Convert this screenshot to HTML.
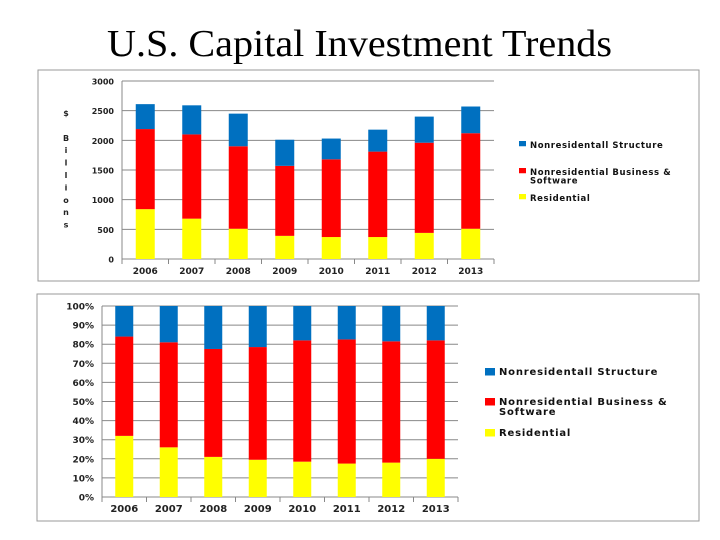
<!DOCTYPE html>
<html><head><meta charset="utf-8"><style>
body{margin:0;width:720px;height:540px;background:#fff;overflow:hidden;font-family:"Liberation Sans",sans-serif}
svg{position:absolute;left:0;top:0}
</style></head><body>
<svg id="s" width="720" height="540">
<text x="107" y="56" textLength="505" lengthAdjust="spacingAndGlyphs" font-family="Liberation Serif,serif" font-size="38" fill="#000">U.S. Capital Investment Trends</text>
<rect x="38" y="70" width="661" height="211" fill="none" stroke="#999"/>
<rect x="37" y="294" width="662" height="227" fill="none" stroke="#999"/>
<g id="top"></g><g id="bot"></g>
</svg>
<script>
const years=["2006","2007","2008","2009","2010","2011","2012","2013"];
const residential=[840,680,510,390,370,370,440,510];
const business=[1350,1420,1390,1180,1310,1440,1520,1610];
const structure=[420,490,550,440,350,370,440,450];
const topTicks=[0,500,1000,1500,2000,2500,3000];
const pctResidential=[32,26,21,19.5,18.5,17.5,18,20];
const pctBusiness=[52,55,56.5,59,63.5,65,63.5,62];
const pctStructure=[16,19,22.5,21.5,18,17.5,18.5,18];
const pctTicks=[0,10,20,30,40,50,60,70,80,90,100];
const colors=["#ffff00","#ff0000","#0070c0"];
const NS="http://www.w3.org/2000/svg";
const FF="DejaVu Sans,sans-serif";
function mk(p,t,a,txt){const e=document.createElementNS(NS,t);for(const k in a)e.setAttribute(k,a[k]);if(txt!==undefined)e.textContent=txt;p.appendChild(e);return e;}
function chart(g,o){
  const y=v=>o.y0-(v-o.min)/(o.max-o.min)*(o.y0-o.y1);
  const step=(o.x1-o.x0)/years.length;
  const x=i=>o.x0+step*(i+0.5);
  o.ticks.forEach(t=>{
    const l=mk(g,"line",{x1:o.x0,x2:o.x1,y1:y(t),y2:y(t),stroke:"#888","stroke-width":1});
    
    
    const tx=mk(g,"text",{x:o.x0-8,y:y(t)+3.5,"text-anchor":"end","font-family":FF,"font-size":o.fs,"font-weight":"bold",fill:"#222"},t+o.suf);
    
    
  });
  const ax=mk(g,"line",{x1:o.x0,x2:o.x0,y1:o.y1,y2:o.y0+5,stroke:"#888"});
  
  
  for(let i=0;i<=years.length;i++){const tk=mk(g,"line",{x1:o.x0+step*i,x2:o.x0+step*i,y1:o.y0,y2:o.y0+5,stroke:"#888"});
    
    }
  const series=[o.a,o.b,o.c];
  years.forEach((yr,i)=>{
    let base=0;
    series.forEach((s,k)=>{
      const r=mk(g,"rect",{x:x(i)-o.bw/2,y:y(base+s[i]),width:o.bw,height:y(base)-y(base+s[i]),fill:colors[k]});
      
      
      base+=s[i];
    });
    const t=mk(g,"text",{x:x(i),y:o.y0+15,"text-anchor":"middle","font-family":FF,"font-size":o.fs+1,"font-weight":"bold",fill:"#222"},yr);
    
    
  });
  const leg=[["Nonresidentall Structure",2,0],["Nonresidential Business &",1,o.lg[1]],["Residential",0,o.lg[2]]];
  leg.forEach(([n,k,dy])=>{
    const r=mk(g,"rect",{x:o.lx,y:o.ly+dy-4,width:o.ls,height:o.ls*0.75,fill:colors[k]});
    
    
    const t=mk(g,"text",{x:o.lx+o.ls+4,y:o.ly+dy+3,"font-family":FF,"font-size":o.lfs,"font-weight":"bold","letter-spacing":o.lsp,fill:"#111"},n);
    
    
  });
  const t2=mk(g,"text",{x:o.lx+o.ls+4,y:o.ly+o.lg[1]+o.lfs+3,"font-family":FF,"font-size":o.lfs,"font-weight":"bold","letter-spacing":o.lsp,fill:"#111"},"Software");
  
  
}
chart(document.getElementById("top"),{x0:122,x1:494,y0:259,y1:81,min:0,max:3000,ticks:topTicks,suf:"",fs:8,bw:19,a:residential,b:business,c:structure,lx:519,ly:145,ls:7,lfs:8.5,lsp:0.6,lg:[0,27,53]});
chart(document.getElementById("bot"),{x0:102,x1:458,y0:497,y1:306,min:0,max:100,ticks:pctTicks,suf:"%",fs:9,bw:18,a:pctResidential,b:pctBusiness,c:pctStructure,lx:485,ly:372,ls:10,lfs:10,lsp:0.8,lg:[0,30,61]});
const labs=["$","","B","i","l","l","i","o","n","s"];
labs.forEach((c,i)=>{if(!c)return;const t=mk(document.getElementById("top"),"text",{x:66,y:116+i*12.4,"text-anchor":"middle","font-family":FF,"font-size":8,"font-weight":"bold",fill:"#222"},c);
  
  });
</script>
</body></html>
